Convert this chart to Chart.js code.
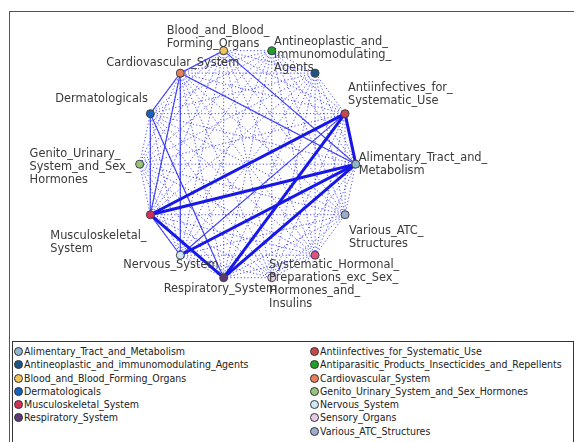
<!DOCTYPE html>
<html>
<head>
<meta charset="utf-8">
<script src="https://cdn.jsdelivr.net/npm/chart.js@4.4.0/dist/chart.umd.min.js"></script>
<style>
  body { margin: 0; width: 574px; height: 442px; overflow: hidden; background: #fff; position: relative; }
  #panel { position: absolute; left: 9px; top: 11px; width: 570px; height: 440px; border-left: 1px solid #555; border-top: 1px solid #555; }
  #wrap { position: absolute; left: 0; top: 0; width: 574px; height: 340px; }
  #legend { position: absolute; left: 12px; top: 341px; width: 560px; height: 110px; border: 1px solid #333;
            font: 10.5px "Liberation Sans Narrow", "DejaVu Sans Condensed", sans-serif; color: #222; }
  .col { position: absolute; top: 3px; }
  .item { height: 13.3px; line-height: 13.3px; white-space: nowrap; }
  .dot { display: inline-block; width: 7px; height: 7px; border-radius: 50%; border: 1px solid #333; vertical-align: -1px; margin-right: 1px; }
</style>
</head>
<body>
<div id="panel"></div>
<div id="wrap"><canvas id="net" width="574" height="340"></canvas></div>
<div id="legend"><div class="col" id="colL" style="left:1px"></div><div class="col" id="colR" style="left:297px"></div></div>
<script>
// nodes, in the order they sit round the ring (alphabetical, counter-clockwise from the right)
const nodeNames = [
  'Alimentary_Tract_and_Metabolism',
  'Antiinfectives_for_Systematic_Use',
  'Antineoplastic_and_immunomodulating_Agents',
  'Antiparasitic_Products_Insecticides_and_Repellents',
  'Blood_and_Blood_Forming_Organs',
  'Cardiovascular_System',
  'Dermatologicals',
  'Genito_Urinary_System_and_Sex_Hormones',
  'Musculoskeletal_System',
  'Nervous_System',
  'Respiratory_System',
  'Sensory_Organs',
  'Systematic_Hormonal_Preparations_excl_Sex_Hormones_and_Insulins',
  'Various_ATC_Structures'
];
const nodeColors = [
  '#8fb6cf', '#c9464d', '#1d5686', '#22a02a', '#f2c35c', '#e67f5a', '#1763c0',
  '#97c47a', '#d2305c', '#cfe8f6', '#5d3978', '#e8c9e8', '#e8507c', '#9aaecb'
];
const nodeLabels = {
  'Alimentary_Tract_and_Metabolism': 'Alimentary_Tract_and_\nMetabolism',
  'Antiinfectives_for_Systematic_Use': 'Antiinfectives_for_\nSystematic_Use',
  'Antineoplastic_and_immunomodulating_Agents': 'Antineoplastic_and_\nimmunomodulating_\nAgents',
  'Blood_and_Blood_Forming_Organs': 'Blood_and_Blood_\nForming_Organs',
  'Cardiovascular_System': 'Cardiovascular_System',
  'Dermatologicals': 'Dermatologicals',
  'Genito_Urinary_System_and_Sex_Hormones': 'Genito_Urinary_\nSystem_and_Sex_\nHormones',
  'Musculoskeletal_System': 'Musculoskeletal_\nSystem',
  'Nervous_System': 'Nervous_System',
  'Respiratory_System': 'Respiratory_System',
  'Systematic_Hormonal_Preparations_excl_Sex_Hormones_and_Insulins': 'Systematic_Hormonal_\nPreparations_exc_Sex_\nHormones_and_\nInsulins',
  'Various_ATC_Structures': 'Various_ATC_\nStructures'
};

// strong (thick) and weak (thin solid) links; every other pair is dotted
const strongLinks = [
  ['Musculoskeletal_System', 'Antiinfectives_for_Systematic_Use'],
  ['Musculoskeletal_System', 'Alimentary_Tract_and_Metabolism'],
  ['Musculoskeletal_System', 'Respiratory_System'],
  ['Respiratory_System', 'Antiinfectives_for_Systematic_Use'],
  ['Respiratory_System', 'Alimentary_Tract_and_Metabolism'],
  ['Nervous_System', 'Alimentary_Tract_and_Metabolism'],
  ['Antiinfectives_for_Systematic_Use', 'Alimentary_Tract_and_Metabolism']
];
const weakLinks = [
  ['Blood_and_Blood_Forming_Organs', 'Cardiovascular_System'],
  ['Blood_and_Blood_Forming_Organs', 'Alimentary_Tract_and_Metabolism'],
  ['Cardiovascular_System', 'Alimentary_Tract_and_Metabolism'],
  ['Cardiovascular_System', 'Dermatologicals'],
  ['Cardiovascular_System', 'Musculoskeletal_System'],
  ['Cardiovascular_System', 'Nervous_System'],
  ['Dermatologicals', 'Musculoskeletal_System'],
  ['Dermatologicals', 'Respiratory_System'],
  ['Musculoskeletal_System', 'Nervous_System'],
  ['Nervous_System', 'Antiinfectives_for_Systematic_Use']
];

// legend as laid out in the box
const legendLeft = [
  'Alimentary_Tract_and_Metabolism', 'Antineoplastic_and_immunomodulating_Agents',
  'Blood_and_Blood_Forming_Organs', 'Dermatologicals', 'Musculoskeletal_System', 'Respiratory_System'
];
const legendRight = [
  'Antiinfectives_for_Systematic_Use', 'Antiparasitic_Products_Insecticides_and_Repellents',
  'Cardiovascular_System', 'Genito_Urinary_System_and_Sex_Hormones', 'Nervous_System',
  'Sensory_Organs', 'Various_ATC_Structures'
];

// layout of the ring on the canvas (px)
const CX = 247, CY = 164, RX = 110, RY = 120, W = 574, H = 340;
// label placement: offset of the first line from the node
const labelOffset = {
  'Alimentary_Tract_and_Metabolism': [3, -6],
  'Antiinfectives_for_Systematic_Use': [3, -26],
  'Antineoplastic_and_immunomodulating_Agents': [-41, -31],
  'Blood_and_Blood_Forming_Organs': [-57, -20],
  'Cardiovascular_System': [-74, -10],
  'Dermatologicals': [-95, -15],
  'Genito_Urinary_System_and_Sex_Hormones': [-110, -10],
  'Musculoskeletal_System': [-100, 21],
  'Nervous_System': [-57, 10],
  'Respiratory_System': [-60, 11],
  'Systematic_Hormonal_Preparations_excl_Sex_Hormones_and_Insulins': [-46, 10],
  'Various_ATC_Structures': [4, 16]
};

function ringPos(name) {
  const i = nodeNames.indexOf(name);
  const a = i * 2 * Math.PI / nodeNames.length;
  return { x: Math.cos(a), y: Math.sin(a) };
}

function linkSet(pairs, style) {
  return pairs.map(p => Object.assign({
    data: [ringPos(p[0]), ringPos(p[1])],
    showLine: true,
    pointRadius: 0,
    fill: false
  }, style));
}

let allPairs = [];
for (let i = 0; i < nodeNames.length; i++) {
  for (let j = i + 1; j < nodeNames.length; j++) {
    allPairs.push([nodeNames[i], nodeNames[j]]);
  }
}

const drawLabels = {
  id: 'drawLabels',
  afterDatasetsDraw(chart) {
    const ctx = chart.ctx;
    const xs = chart.scales.x, ys = chart.scales.y;
    ctx.save();
    ctx.font = '11.4px "DejaVu Sans"';
    ctx.fillStyle = '#3a3a3a';
    ctx.textBaseline = 'middle';
    for (const name of nodeNames) {
      if (!nodeLabels[name]) continue;
      const p = ringPos(name);
      const px = xs.getPixelForValue(p.x), py = ys.getPixelForValue(p.y);
      const off = labelOffset[name];
      nodeLabels[name].split('\n').forEach((line, k) => {
        ctx.fillText(line, px + off[0], py + off[1] + k * 13);
      });
    }
    ctx.restore();
  }
};

let datasets = [{
  data: nodeNames.map(ringPos),
  pointRadius: 4,
  pointBackgroundColor: nodeColors,
  pointBorderColor: '#444',
  pointBorderWidth: 1,
  showLine: false,
  order: 0
}];
datasets = datasets.concat(
  linkSet(strongLinks, { borderColor: '#1717e8', borderWidth: 3, order: 1 }),
  linkSet(weakLinks, { borderColor: 'rgba(50,50,240,0.85)', borderWidth: 1.2, order: 2 }),
  linkSet(allPairs, { borderColor: 'rgba(45,45,255,0.85)', borderWidth: 1, borderDash: [1.2, 2.2], order: 3 })
);

let chart = new Chart('net', {
  type: 'scatter',
  data: { datasets: datasets },
  options: {
    responsive: false,
    animation: false,
    layout: { padding: 0 },
    scales: {
      x: { type: 'linear', min: -CX / RX, max: (W - CX) / RX, display: false },
      y: { type: 'linear', min: -(H - CY) / RY, max: CY / RY, display: false }
    },
    plugins: {
      legend: { display: false },
      tooltip: { enabled: false }
    }
  },
  plugins: [drawLabels]
});

function fillLegend(el, names) {
  names.forEach(n => {
    const row = document.createElement('div');
    row.className = 'item';
    const dot = document.createElement('span');
    dot.className = 'dot';
    dot.style.background = nodeColors[nodeNames.indexOf(n)];
    row.appendChild(dot);
    row.appendChild(document.createTextNode(n));
    el.appendChild(row);
  });
}
fillLegend(document.getElementById('colL'), legendLeft);
fillLegend(document.getElementById('colR'), legendRight);
</script>
</body>
</html>
